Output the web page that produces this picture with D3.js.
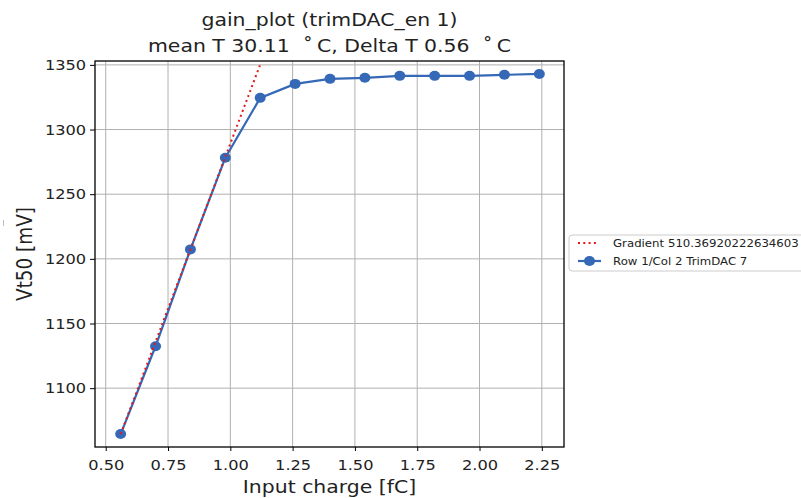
<!DOCTYPE html>
<html>
<head>
  <meta charset="utf-8">
  <title>gain_plot</title>
<script src="https://d3js.org/d3.v7.min.js"></script>
  <style>
    body { margin: 0; background: #fff; }
    text { font-family: "DejaVu Sans", sans-serif; fill: #222; white-space: pre; }
    .grid line { stroke: #b0b0b0; stroke-width: 1px; }
    .axis line { stroke: #000; }
  </style>
</head>
<body>
  <script>
    // measured points
    const charge = [0.56, 0.70, 0.84, 0.98, 1.12, 1.26, 1.40, 1.54, 1.68, 1.82, 1.96, 2.10, 2.24];
    const vt50 = [1064.5, 1132.4, 1207.3, 1278.2, 1324.5, 1335.3, 1339.2, 1340.0, 1341.5, 1341.5, 1341.5, 1342.3, 1343.0];

    // linear fit of the first points
    const gradX = [0.56, 1.12];
    const gradY = [1064.5, 1350.3];

    const xTicks = [0.50, 0.75, 1.00, 1.25, 1.50, 1.75, 2.00, 2.25];
    const yTicks = [1100, 1150, 1200, 1250, 1300, 1350];
    const legendLabels = ["Gradient 510.36920222634603 mV/fC", "Row 1/Col 2 TrimDAC 7"];

    const W = 801, H = 498;
    const plot = { left: 95, top: 61, right: 564, bottom: 447 };
    const sx = 1.11;   // the original picture is a little wider than tall
    const blue = "#3568b6", red = "#e31a1c";

    const svg = d3.select("body").append("svg")
        .attr("width", W)
        .attr("height", H);

    const x = d3.scaleLinear().domain([0.457, 2.339]).range([plot.left, plot.right]);
    const y = d3.scaleLinear().domain([1054.5, 1353]).range([plot.bottom, plot.top]);

    // grid
    svg.append("g").attr("class", "grid")
        .selectAll("line").data(xTicks).enter().append("line")
        .attr("x1", d => x(d)).attr("x2", d => x(d))
        .attr("y1", plot.top).attr("y2", plot.bottom);
    svg.append("g").attr("class", "grid")
        .selectAll("line").data(yTicks).enter().append("line")
        .attr("x1", plot.left).attr("x2", plot.right)
        .attr("y1", d => y(d)).attr("y2", d => y(d));

    svg.append("clipPath").attr("id", "clip")
      .append("rect")
        .attr("x", plot.left).attr("y", plot.top)
        .attr("width", plot.right - plot.left).attr("height", plot.bottom - plot.top);

    const data = svg.append("g").attr("clip-path", "url(#clip)");
    const line = d3.line().x(d => x(d[0])).y(d => y(d[1]));
    const pts = d3.zip(charge, vt50);

    data.append("path")
        .datum(pts)
        .attr("d", line)
        .attr("fill", "none")
        .attr("stroke", blue)
        .attr("stroke-width", 2.2);

    data.selectAll(".pt")
        .data(pts)
        .enter().append("ellipse")
        .attr("class", "pt")
        .attr("cx", d => x(d[0]))
        .attr("cy", d => y(d[1]))
        .attr("rx", 5.5).attr("ry", 5)
        .attr("fill", blue);

    data.append("path")
        .datum(d3.zip(gradX, gradY))
        .attr("d", line)
        .attr("fill", "none")
        .attr("stroke", red)
        .attr("stroke-width", 2)
        .attr("stroke-dasharray", "2,3.3");

    // axes
    const xAxis = d3.axisBottom(x).tickValues(xTicks).tickFormat(d3.format(".2f")).tickSizeOuter(0).tickSize(4).tickPadding(9);
    const yAxis = d3.axisLeft(y).tickValues(yTicks).tickFormat(d3.format("d")).tickSizeOuter(0).tickSize(5).tickPadding(3);

    const gx = svg.append("g").attr("class", "axis")
        .attr("transform", "translate(0," + plot.bottom + ")")
        .call(xAxis);
    gx.select(".domain").remove();
    gx.selectAll("text")
        .style("font-size", "14.6px").style("font-family", "DejaVu Sans")
        .attr("transform", "scale(" + sx + ",1)");

    const gy = svg.append("g").attr("class", "axis")
        .attr("transform", "translate(" + plot.left + ",0)")
        .call(yAxis);
    gy.select(".domain").remove();
    gy.selectAll("text")
        .style("font-size", "14.6px").style("font-family", "DejaVu Sans")
        .attr("transform", "scale(" + sx + ",1)");

    // frame
    svg.append("rect")
        .attr("x", plot.left).attr("y", plot.top)
        .attr("width", plot.right - plot.left).attr("height", plot.bottom - plot.top)
        .attr("fill", "none").attr("stroke", "#000").attr("stroke-width", 1.3);

    // titles and labels
    function label(tx, ty, str, size, rot) {
      const t = rot ? " rotate(-90) scale(1," + sx + ")" : " scale(" + sx + ",1)";
      return svg.append("text")
          .attr("transform", "translate(" + tx + "," + ty + ")" + t)
          .attr("text-anchor", "middle")
          .style("font-size", size + "px")
          .text(str);
    }
    const cx = (plot.left + plot.right) / 2;
    label(cx, 26, "gain_plot (trimDAC_en 1)", 18.4);
    label(cx, 52, "mean T 30.11  \u02da\u2009C, Delta T 0.56  \u02da\u2009C", 18.4);
    label(cx, 493, "Input charge [fC]", 18.4);
    label(32, (plot.top + plot.bottom) / 2, "Vt50 [mV]", 18.4, true);

    // small stray mark at the left edge
    svg.append("line").attr("x1", 3.5).attr("x2", 3.5).attr("y1", 220).attr("y2", 226)
        .attr("stroke", "#bbb").attr("stroke-width", 1);

    // legend
    const lg = svg.append("g").attr("transform", "translate(569,235)");
    lg.append("rect")
        .attr("x", 0).attr("y", 0).attr("width", 260).attr("height", 36)
        .attr("rx", 3)
        .attr("fill", "#fff").attr("stroke", "#ccc");
    lg.append("line").attr("x1", 9).attr("x2", 30).attr("y1", 8).attr("y2", 8)
        .attr("stroke", red).attr("stroke-width", 2).attr("stroke-dasharray", "2,3.3");
    lg.append("line").attr("x1", 9).attr("x2", 32).attr("y1", 26).attr("y2", 26)
        .attr("stroke", blue).attr("stroke-width", 2.2);
    lg.append("ellipse").attr("cx", 20.5).attr("cy", 26).attr("rx", 5.5).attr("ry", 5).attr("fill", blue);
    lg.selectAll(".lt").data(legendLabels).enter().append("text")
        .attr("class", "lt")
        .attr("transform", (d, i) => "translate(44," + (12 + i * 18) + ") scale(" + sx + ",1)")
        .style("font-size", "10.6px")
        .text(d => d);
  </script>
</body>
</html>
